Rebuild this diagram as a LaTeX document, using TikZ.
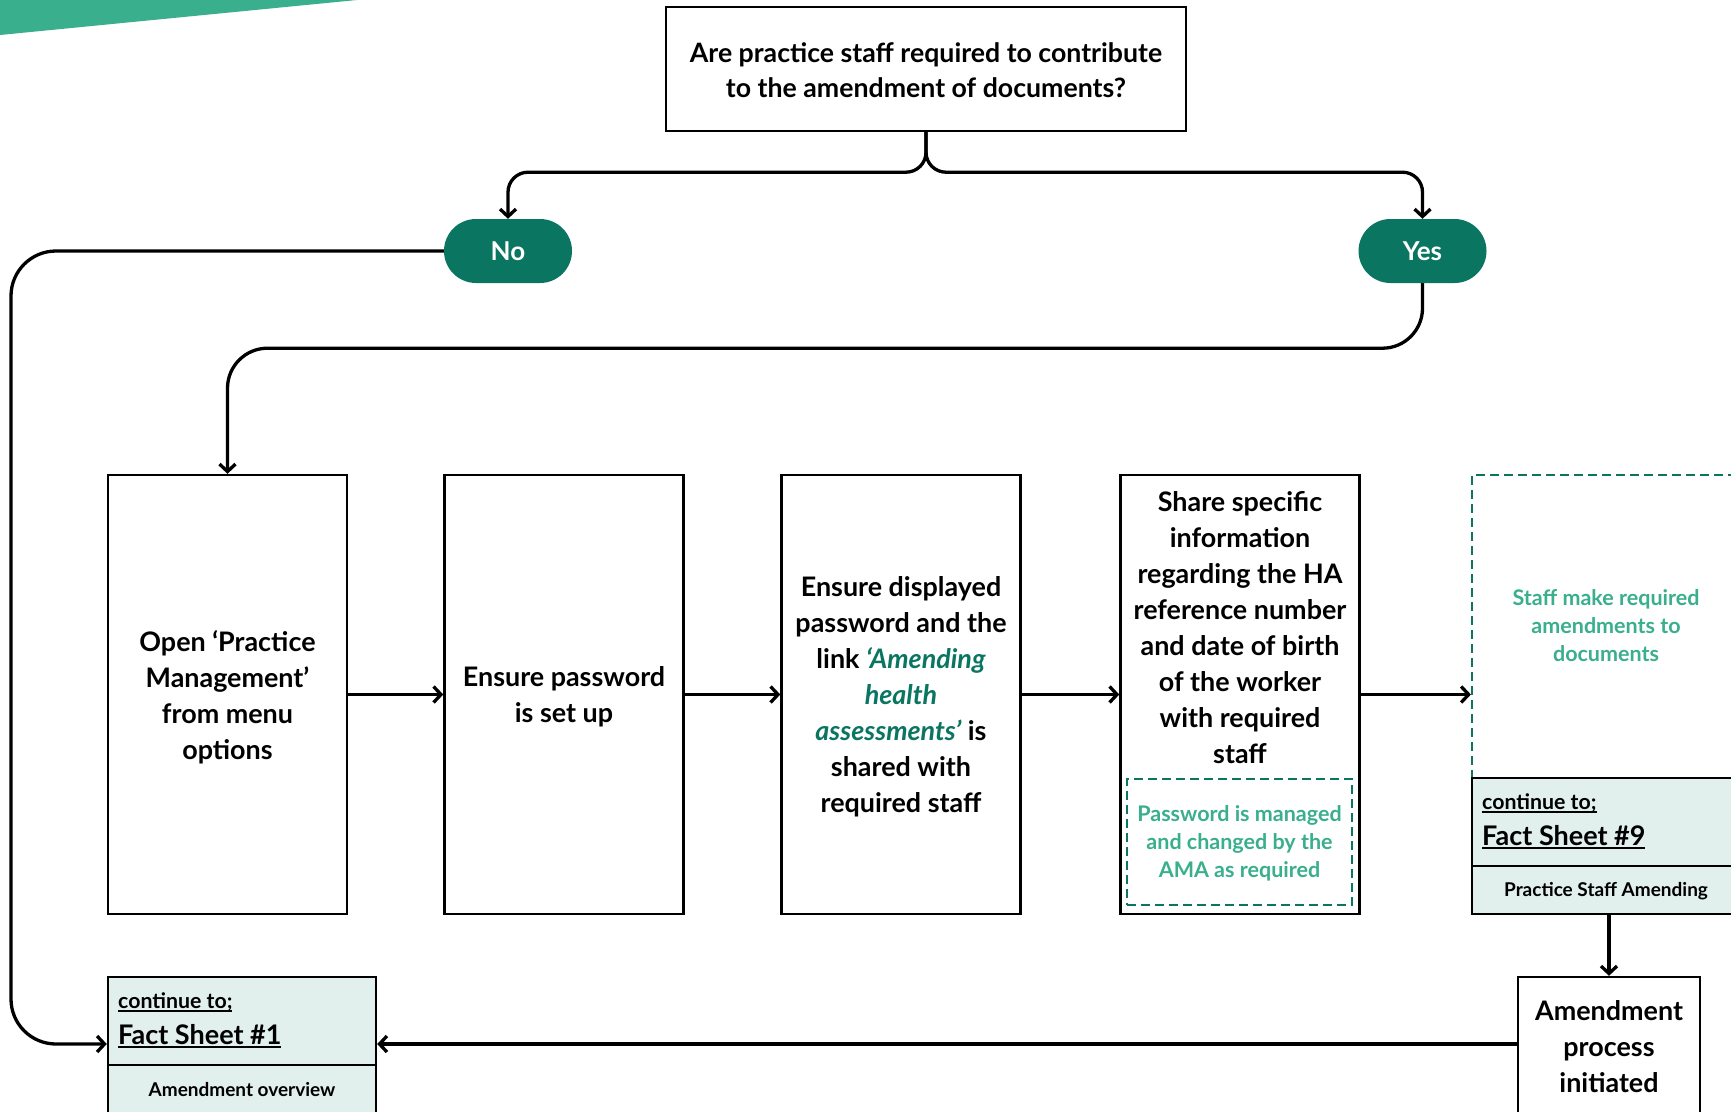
\documentclass[tikz,border=0pt]{standalone}
\usepackage{fontspec}
\setmainfont{Lato}
\usetikzlibrary{arrows.meta}
\definecolor{dkgreen}{HTML}{0A7560}
\definecolor{ltgreen}{HTML}{3AAF8D}
\definecolor{paleg}{HTML}{E1F0EC}
\newcommand{\ulbox}[3]{\setbox0=\hbox{#3}\rlap{\rule[-#1]{\wd0}{#2}}\box0}
\tikzset{
  box/.style={draw=black, line width=2.4pt, inner sep=0pt, fill=white},
  pill/.style={fill=dkgreen, rounded corners=32pt, minimum width=128pt, minimum height=64pt, inner sep=0pt,
    text=white, font=\fontsize{26}{30}\selectfont\bfseries},
  btext/.style={align=center, font=\fontsize{26.9}{36}\selectfont\bfseries, inner sep=0pt},
  gtext/.style={align=center, text=ltgreen, font=\fontsize{21.5}{28}\selectfont\bfseries, inner sep=0pt},
  conn/.style={line width=3.3pt, -{Straight Barb[length=7.5pt,width=16pt,line width=3.3pt]}},
  dashbox/.style={draw=dkgreen, line width=2.2pt, dash pattern=on 9pt off 5pt, inner sep=0pt},
  fact/.style={draw=black, line width=2.4pt, fill=paleg, inner sep=0pt},
  smalltxt/.style={anchor=west, inner sep=0pt, font=\fontsize{21.3}{24}\selectfont\bfseries},
  bigtxt/.style={anchor=west, inner sep=0pt, font=\fontsize{27}{30}\selectfont\bfseries},
  subtxt/.style={inner sep=0pt, font=\fontsize{19}{22}\selectfont\bfseries},
}
\begin{document}
\begin{tikzpicture}[x=1pt,y=-1pt]
\clip (0,0) rectangle (1731,1111);
\fill[white] (0,0) rectangle (1731,1111);
\fill[ltgreen] (0,0) -- (357,0) -- (0,35) -- cycle;

% question
\node[box, minimum width=520pt, minimum height=124pt] (q) at (926,69) {};
\node[btext, font=\fontsize{26.7}{35.5}\selectfont\bfseries] (qt) at (926,70) {Are practice staff required to contribute\\to the amendment of documents?};

% pills
\node[pill] (no) at (508,251) {No};
\node[pill] (yes) at (1422.5,251) {Yes};

% main boxes
\node[box, minimum width=239pt, minimum height=439pt] (b1) at (227.5,694.5) {};
\node[box, minimum width=239pt, minimum height=439pt] (b2) at (564,694.5) {};
\node[box, minimum width=239pt, minimum height=439pt] (b3) at (901,694.5) {};
\node[box, minimum width=239pt, minimum height=439pt] (b4) at (1240,694.5) {};
\node[dashbox, minimum width=268pt, minimum height=303pt] (b5) at (1606,626.5) {};

\node[btext] (t1) at (227.5,697) {Open ‘Practice\\Management’\\from menu\\options};
\node[btext] (t2) at (564,697) {Ensure password\\is set up};
\node[btext] (t3) at (901,697) {Ensure displayed\\password and the\\link {\color{dkgreen}\itshape ‘Amending}\\{\color{dkgreen}\itshape health}\\{\color{dkgreen}\itshape assessments’} is\\shared with\\required staff};
\node[btext] (t4) at (1240,628) {Share specific\\information\\regarding the HA\\reference number\\and date of birth\\of the worker\\with required\\staff};
\node[dashbox, minimum width=225pt, minimum height=126pt] (pw) at (1239.5,842) {};
\node[gtext] (pwt) at (1239.5,843) {Password is managed\\and changed by the\\AMA as required};
\node[gtext] (t5) at (1606,626) {Staff make required\\amendments to\\documents};

% fact sheet 9
\node[fact, minimum width=268pt, minimum height=88pt] (fs9top) at (1606,822) {};
\node[fact, minimum width=268pt, minimum height=48pt] (fs9bot) at (1606,890) {};
\node[smalltxt] (fs9a) at (1482,803) {\ulbox{3.2pt}{1.8pt}{continue to;}};
\node[bigtxt] (fs9b) at (1482,837) {\ulbox{4pt}{2.2pt}{Fact Sheet \#9}};
\node[subtxt] (fs9c) at (1606,891) {Practice Staff Amending};

% fact sheet 1
\node[fact, minimum width=268pt, minimum height=88pt] (fs1top) at (242,1021) {};
\node[fact, minimum width=268pt, minimum height=60pt] (fs1bot) at (242,1095) {};
\node[smalltxt] (fs1a) at (118,1002) {\ulbox{3.2pt}{1.8pt}{continue to;}};
\node[bigtxt] (fs1b) at (118,1036) {\ulbox{4pt}{2.2pt}{Fact Sheet \#1}};
\node[subtxt] (fs1c) at (242,1090) {Amendment overview};

% amendment box
\node[box, minimum width=182pt, minimum height=140pt] (amend) at (1609,1047) {};
\node[btext] (amt) at (1609,1047) {Amendment\\process\\initiated};

% connectors
\draw[conn, rounded corners=20pt] (q.south) -- ++(0,40) -| (no.north);
\draw[conn, rounded corners=20pt] (q.south) -- ++(0,40) -| (yes.north);
\draw[conn, rounded corners=45pt] (no.west) -- (11,251) -- (11,1044) -- (fs1top.west |- 0,1044);
\draw[conn, rounded corners=40pt] (yes.south) -- ++(0,65) -| (b1.north);
\draw[conn] (b1.east) -- (b2.west);
\draw[conn] (b2.east) -- (b3.west);
\draw[conn] (b3.east) -- (b4.west);
\draw[conn] (b4.east) -- (b4.east -| b5.west);
\draw[conn] (fs9bot.south -| amend.north) -- (amend.north);
\draw[conn] (amend.west |- 0,1044) -- (fs1top.east |- 0,1044);
\end{tikzpicture}
\end{document}
